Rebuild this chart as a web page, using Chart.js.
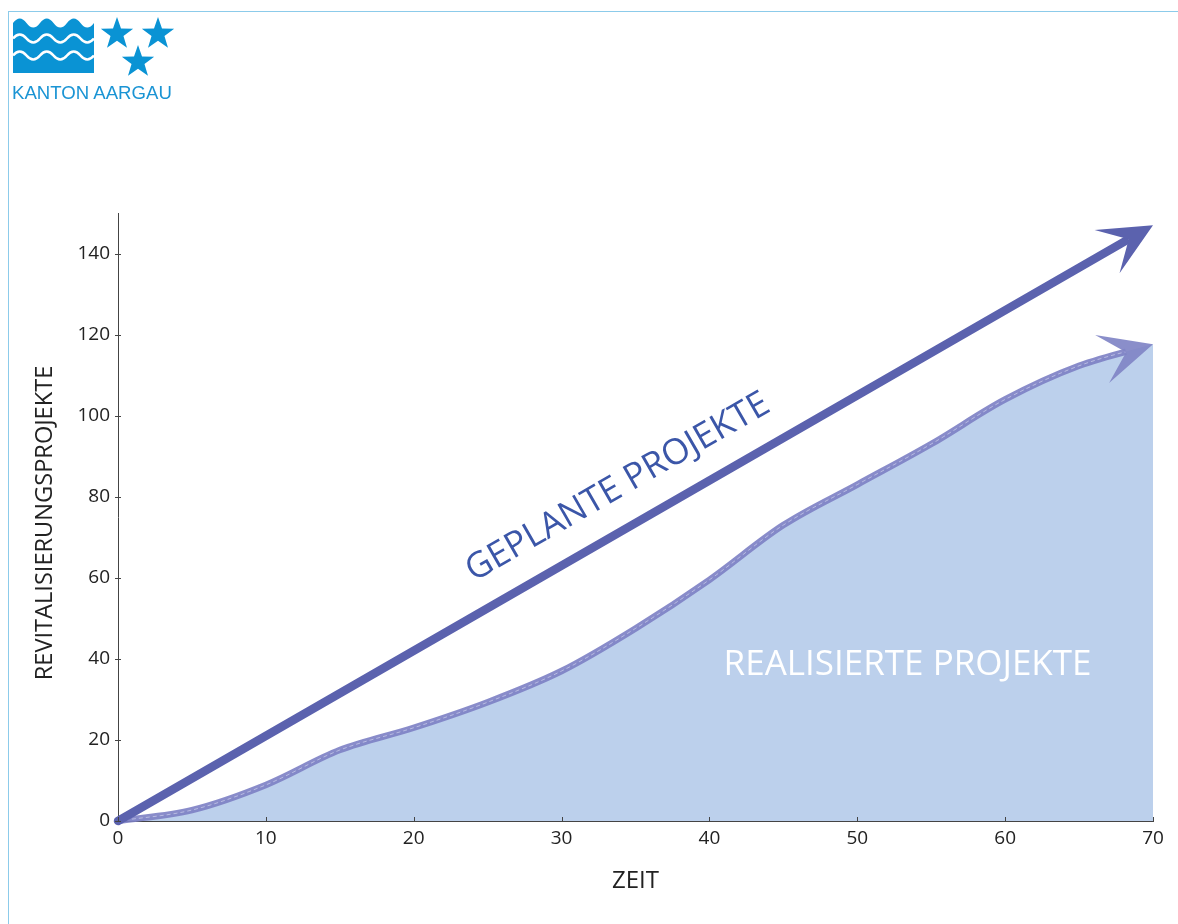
<!DOCTYPE html>
<html><head><meta charset="utf-8">
<script src="https://cdn.jsdelivr.net/npm/chart.js@4"></script>
<style>
html,body{margin:0;padding:0;background:#fff;}
#wrap{position:relative;width:1178px;height:924px;overflow:hidden;background:#fff;}
canvas{position:absolute;left:0;top:0;}
#frameTop{position:absolute;left:8px;top:11px;width:1170px;height:1px;background:#8ccbea;}
#frameLeft{position:absolute;left:8px;top:11px;width:1px;height:913px;background:#8ccbea;}
#logo{position:absolute;left:0;top:0;}
</style></head>
<body><div id="wrap">
<canvas id="c" width="1178" height="924"></canvas>
<div id="frameTop"></div><div id="frameLeft"></div>
<svg id="logo" width="200" height="110" xmlns="http://www.w3.org/2000/svg">
  <path d="M13,23 q6.75,-9 13.5,0 t13.5,0 t13.5,0 t13.5,0 t13.5,0 t13.5,0 L94,73 L13,73 Z" fill="#0a93d4"/>
  <path d="M13,38.5 q6.75,-8 13.5,0 t13.5,0 t13.5,0 t13.5,0 t13.5,0 t13.5,0" fill="none" stroke="#fff" stroke-width="2.6"/>
  <path d="M13,55.5 q6.75,-8 13.5,0 t13.5,0 t13.5,0 t13.5,0 t13.5,0 t13.5,0" fill="none" stroke="#fff" stroke-width="2.6"/>
  <g id="stars" fill="#0a93d4"></g>
  <text x="12" y="99" font-family="Liberation Sans, Arial, sans-serif" font-size="18.6" fill="#1a94d4">KANTON AARGAU</text>
</svg>
</div>
<script>
// ---- data ----
const timeTicks = [0, 10, 20, 30, 40, 50, 60, 70];
const countTicks = [0, 20, 40, 60, 80, 100, 120, 140];
const plannedX = [0, 70];
const plannedY = [0, 147];
const realizedX = [0, 5, 10, 15, 20, 25, 30, 35, 40, 45, 50, 55, 60, 65, 70];
const realizedY = [0, 2.7, 8.9, 17.5, 23, 29.3, 37, 47.5, 59.5, 73, 83, 93, 104, 112.3, 117.6];
const xTitle = 'ZEIT';
const yTitle = 'REVITALISIERUNGSPROJEKTE';
const plannedLabel = 'GEPLANTE PROJEKTE';
const realizedLabel = 'REALISIERTE PROJEKTE';

// logo stars
(function(){
  const g = document.getElementById('stars');
  const centers = [[117,34],[158,34],[138,62]];
  let html = '';
  centers.forEach(([cx,cy])=>{
    const pts=[];
    for(let i=0;i<10;i++){
      const r = i%2===0 ? 17 : 6.8;
      const a = -Math.PI/2 + i*Math.PI/5;
      pts.push((cx+r*Math.cos(a)).toFixed(2)+','+(cy+r*Math.sin(a)).toFixed(2));
    }
    html += '<polygon points="'+pts.join(' ')+'"/>';
  });
  g.innerHTML = html;
})();

const FONT = "'Open Sans', 'Noto Sans', sans-serif";
const toXY = (xs, ys) => xs.map((x,i)=>({x:x, y:ys[i]}));

function arrowGeom(chart, idx){
  const pts = chart.getDatasetMeta(idx).data;
  const last = pts[pts.length-1];
  let dx, dy;
  if (last.cp1x !== undefined && (Math.abs(last.x-last.cp1x)+Math.abs(last.y-last.cp1y))>0.5){
    dx = last.x-last.cp1x; dy = last.y-last.cp1y;
  } else {
    const prev = pts[pts.length-2];
    dx = last.x-prev.x; dy = last.y-prev.y;
  }
  const len = Math.hypot(dx,dy); const ux=dx/len, uy=dy/len;
  const px=-uy, py=ux;
  const L=53, W=25, N=28;
  return {tx:last.x, ty:last.y, ux, uy, px, py,
    nx:last.x-ux*N, ny:last.y-uy*N,
    w1x:last.x-ux*L+px*W, w1y:last.y-uy*L+py*W,
    w2x:last.x-ux*L-px*W, w2y:last.y-uy*L-py*W};
}

const decoPlugin = {
  id:'deco',
  beforeDatasetDraw(chart, args){
    const ds = chart.data.datasets[args.index];
    if (ds.arrowFrom === undefined) return;
    const a = arrowGeom(chart, ds.arrowFrom);
    const ctx = chart.ctx; ctx.save();
    const B=4000;
    ctx.beginPath();
    ctx.moveTo(a.nx+a.px*B, a.ny+a.py*B);
    ctx.lineTo(a.nx-a.px*B, a.ny-a.py*B);
    ctx.lineTo(a.nx-a.px*B-a.ux*B, a.ny-a.py*B-a.uy*B);
    ctx.lineTo(a.nx+a.px*B-a.ux*B, a.ny+a.py*B-a.uy*B);
    ctx.closePath(); ctx.clip();
  },
  afterDatasetDraw(chart, args){
    const ds = chart.data.datasets[args.index];
    if (ds.arrowFrom === undefined) return;
    chart.ctx.restore();
  },
  afterDatasetsDraw(chart){
    const ctx = chart.ctx;
    chart.data.datasets.forEach((ds,i)=>{
      if (!ds.arrowHead) return;
      const a = arrowGeom(chart, i);
      ctx.save();
      ctx.fillStyle = ds.arrowHead;
      ctx.beginPath();
      ctx.moveTo(a.tx,a.ty); ctx.lineTo(a.w1x,a.w1y); ctx.lineTo(a.nx,a.ny); ctx.lineTo(a.w2x,a.w2y);
      ctx.closePath(); ctx.fill();
      ctx.restore();
    });
    // labels
    const xs = chart.scales.x, ys = chart.scales.y;
    const pm = chart.getDatasetMeta(0).data;
    const ang = Math.atan2(pm[1].y-pm[0].y, pm[1].x-pm[0].x);
    ctx.save();
    ctx.font = "35.5px " + FONT;
    ctx.textAlign='center'; ctx.textBaseline='middle';
    ctx.translate(xs.getPixelForValue(33.8), ys.getPixelForValue(82.3));
    ctx.rotate(ang);
    ctx.fillStyle = '#3b56a8';
    ctx.fillText(plannedLabel, 0, 0);
    ctx.restore();
    ctx.save();
    ctx.font = "35px " + FONT;
    ctx.textAlign='center'; ctx.textBaseline='middle';
    ctx.fillStyle = '#ffffff';
    ctx.fillText(realizedLabel, xs.getPixelForValue(53.4), ys.getPixelForValue(38.5));
    ctx.restore();
  },
  afterDraw(chart){
    const ctx = chart.ctx, xs = chart.scales.x, ys = chart.scales.y;
    ctx.save(); ctx.strokeStyle='#444'; ctx.lineWidth=1;
    ctx.beginPath();
    xs.ticks.forEach(t=>{ const p=Math.round(xs.getPixelForValue(t.value))+0.5; ctx.moveTo(p, ys.bottom); ctx.lineTo(p, ys.bottom-4); });
    ys.ticks.forEach(t=>{ const p=Math.round(ys.getPixelForValue(t.value))+0.5; ctx.moveTo(xs.left-3, p); ctx.lineTo(xs.left+3, p); });
    ctx.stroke(); ctx.restore();
    // y axis title
    ctx.save();
    ctx.font = "23.6px " + FONT;
    ctx.fillStyle = '#222';
    ctx.textAlign='center'; ctx.textBaseline='middle';
    ctx.translate(45, (ys.top + ys.bottom)/2 + 6);
    ctx.rotate(-Math.PI/2);
    ctx.fillText(yTitle, 0, 0);
    ctx.restore();
  }
};

new Chart(document.getElementById('c'), {
  type:'line',
  data:{ datasets:[
    { label:'Geplante Projekte', data: toXY(plannedX, plannedY), borderColor:'#5b62ae', borderWidth:8.5,
      borderCapStyle:'round', pointRadius:0, fill:false, tension:0, order:1, clip:false,
      arrowFrom:0, arrowHead:'#5b62ae' },
    { label:'Realisierte Projekte', data: toXY(realizedX, realizedY), borderColor:'rgba(124,128,196,0.9)', borderWidth:6.5,
      borderCapStyle:'round', pointRadius:0, fill:false, cubicInterpolationMode:'monotone', order:3, clip:false,
      arrowFrom:1, arrowHead:'rgba(128,132,198,0.92)' },
    { label:'hl', data: toXY(realizedX, realizedY), borderColor:'rgba(225,228,245,0.55)', borderWidth:1,
      borderDash:[4,3], pointRadius:0, fill:false, cubicInterpolationMode:'monotone', order:2, clip:false,
      arrowFrom:1 },
    { label:'fill', data: toXY(realizedX, realizedY), borderWidth:0, borderColor:'rgba(0,0,0,0)',
      backgroundColor:'#bcd0ec', pointRadius:0, fill:'origin', cubicInterpolationMode:'monotone', order:4 }
  ]},
  options:{
    responsive:false, animation:false, devicePixelRatio:1,
    layout:{padding:{left:0, right:25, top:213, bottom:0}},
    plugins:{legend:{display:false}, tooltip:{enabled:false}},
    scales:{
      x:{ type:'linear', min:0, max:70,
        afterBuildTicks: s=>{ s.ticks = timeTicks.map(v=>({value:v})); },
        afterFit: s=>{ s.height = 103; },
        ticks:{ padding:6, color:'#222', font:{family:FONT, size:19}, maxRotation:0, autoSkip:false },
        grid:{ display:true, drawOnChartArea:false, drawTicks:false },
        border:{ display:true, color:'#444', width:1 },
        title:{ display:true, text:xTitle, color:'#222', font:{family:FONT, size:24}, padding:{top:0, bottom:28} } },
      y:{ type:'linear', min:0, max:150,
        afterBuildTicks: s=>{ s.ticks = countTicks.map(v=>({value:v})); },
        afterFit: s=>{ s.width = 118; },
        ticks:{ padding:8, color:'#222', font:{family:FONT, size:19}, autoSkip:false },
        grid:{ display:true, drawOnChartArea:false, drawTicks:false },
        border:{ display:true, color:'#444', width:1 },
        title:{ display:false, text:yTitle } }
    }
  },
  plugins:[decoPlugin]
});
</script>
</body></html>
